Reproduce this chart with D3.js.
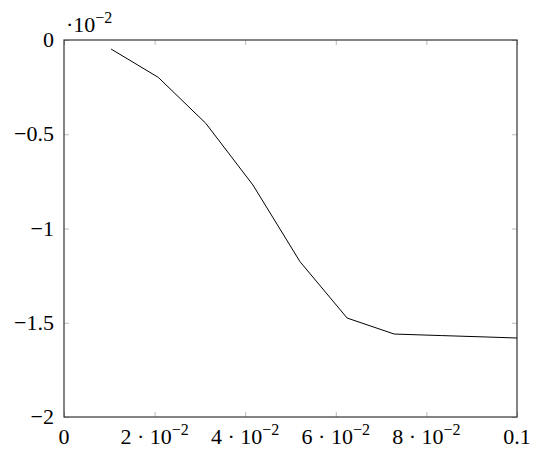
<!DOCTYPE html>
<html>
<head>
<meta charset="utf-8">
<script src="https://cdn.jsdelivr.net/npm/d3@7"></script>
<style>
  body { margin: 0; background: #fff; }
  text { font-family: "Liberation Serif", "DejaVu Serif", serif; fill: #000; }
</style>
</head>
<body>
<div id="chart"></div>
<script>
const xValues = [0.0104, 0.0208, 0.0313, 0.0417, 0.0521, 0.0625, 0.0729, 0.0833, 0.0938, 0.1];
const yValues = [-0.00048, -0.00198, -0.00442, -0.00769, -0.01176, -0.01475, -0.0156, -0.01568, -0.01576, -0.01581];
const xTicks = [0, 0.02, 0.04, 0.06, 0.08, 0.1];
const xTickLabels = ["0", "2", "4", "6", "8", "0.1"];
const yTicks = [0, -0.005, -0.01, -0.015, -0.02];
const yTickLabels = ["0", "\u22120.5", "\u22121", "\u22121.5", "\u22122"];

const W = 540, H = 452;
const margin = {top: 40, right: 23, bottom: 35, left: 64};

const svg = d3.select("#chart").append("svg")
  .attr("width", W).attr("height", H);

const x = d3.scaleLinear().domain([0, 0.1]).range([margin.left, W - margin.right]);
const y = d3.scaleLinear().domain([-0.02, 0]).range([H - margin.bottom, margin.top]);

const tickLen = 5;
const tickColor = "#bbb";

// ticks on all four sides, pointing inward
const xAxisB = d3.axisBottom(x).tickValues(xTicks).tickSize(-tickLen).tickFormat("");
const xAxisT = d3.axisTop(x).tickValues(xTicks).tickSize(-tickLen).tickFormat("");
const yAxisL = d3.axisLeft(y).tickValues(yTicks).tickSize(-tickLen).tickFormat("");
const yAxisR = d3.axisRight(y).tickValues(yTicks).tickSize(-tickLen).tickFormat("");

[[xAxisB, `translate(0,${y(-0.02)})`], [xAxisT, `translate(0,${y(0)})`],
 [yAxisL, `translate(${x(0)},0)`], [yAxisR, `translate(${x(0.1)},0)`]].forEach(([ax, tr]) => {
  const g = svg.append("g").attr("transform", tr).call(ax);
  g.select(".domain").remove();
  g.selectAll(".tick line").attr("stroke", tickColor).attr("stroke-width", 1);
});

// frame
svg.append("rect")
  .attr("x", x(0)).attr("y", y(0))
  .attr("width", x(0.1) - x(0)).attr("height", y(-0.02) - y(0))
  .attr("fill", "none").attr("stroke", "#333").attr("stroke-width", 1.2);

// data line
const line = d3.line().x((d, i) => x(xValues[i])).y(d => y(d));
svg.append("path")
  .datum(yValues)
  .attr("d", line)
  .attr("fill", "none")
  .attr("stroke", "#000")
  .attr("stroke-width", 1);

const fs = 22;
const sup = "16px";

// y tick labels
svg.selectAll(".ylab").data(yTicks).enter().append("text")
  .attr("x", x(0) - 10)
  .attr("y", d => y(d) + 7)
  .attr("text-anchor", "end")
  .style("font-size", fs + "px")
  .text((d, i) => yTickLabels[i]);

// x tick labels
xTicks.forEach((t, i) => {
  const lab = svg.append("text")
    .attr("x", x(t))
    .attr("y", H - margin.bottom + 27)
    .attr("text-anchor", "middle")
    .style("font-size", fs + "px");
  if (i === 0 || i === xTicks.length - 1) {
    lab.text(xTickLabels[i]);
  } else {
    lab.append("tspan").text(xTickLabels[i] + " \u00B7 10");
    lab.append("tspan").attr("dy", -9).style("font-size", sup).text("\u22122");
  }
});

// scale label
const sl = svg.append("text")
  .attr("x", x(0) + 2)
  .attr("y", 32)
  .style("font-size", fs + "px");
sl.append("tspan").text("\u00B710");
sl.append("tspan").attr("dy", -9).style("font-size", sup).text("\u22122");
</script>
</body>
</html>
